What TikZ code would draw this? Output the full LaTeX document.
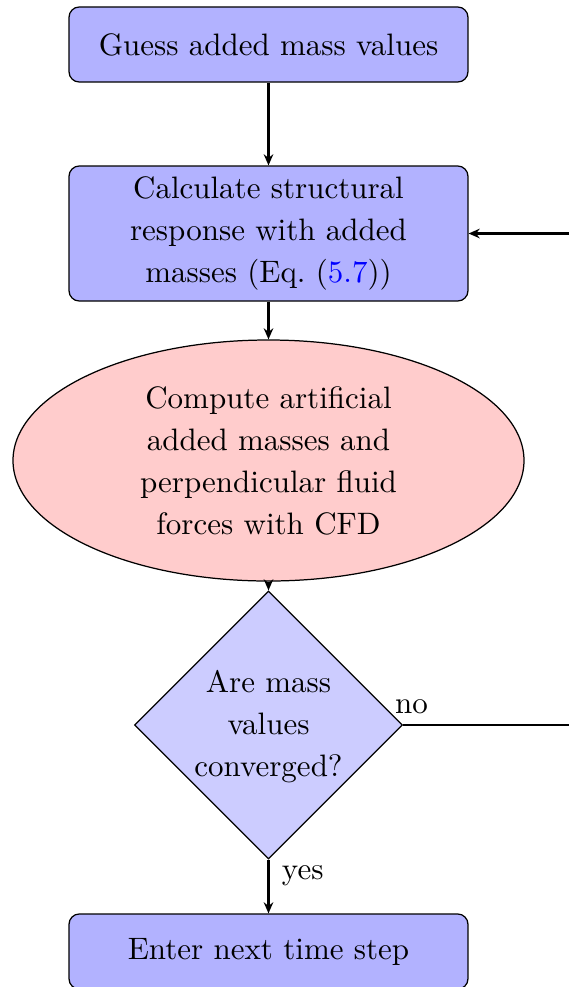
\documentclass[tikz,border=0pt]{standalone}
\usepackage{fontspec}
\usetikzlibrary{shapes.geometric,arrows.meta}
\definecolor{linkblue}{rgb}{0,0,1}
\begin{document}
\begin{tikzpicture}[x=0.3226pt,y=-0.3226pt,
  txt/.style={font=\fontsize{10pt}{13.55pt}\selectfont,align=center},
  block/.style={txt,draw,rectangle,fill=blue!30,rounded corners=3.3pt,minimum width=128.7pt,inner sep=0pt},
  cloudy/.style={txt,draw,ellipse,fill=red!20,minimum width=164.85pt,minimum height=77.75pt,inner sep=0pt},
  decide/.style={draw,diamond,fill=blue!20,minimum width=86.46pt,minimum height=86.46pt,inner sep=0pt},
  conn/.style={draw,line width=0.7pt,-{Stealth[length=3.6pt,width=3.1pt,inset=1.2pt]}},
  lbl/.style={font=\fontsize{10pt}{12pt}\selectfont,inner sep=0pt}]
\useasboundingbox (0,0) rectangle (569,987);
\node[block,minimum height=24.2pt] (guess) at (268.5,44.5) {Guess added mass values};
\node[block,minimum height=43.55pt] (calc) at (268.5,233.5) {Calculate structural\\response with added\\masses (Eq.~({\color{linkblue}5.7}))};
\node[cloudy] (cfd) at (268.5,460.5) {Compute artificial\\added masses and\\perpendicular fluid\\forces with CFD};
\node[decide] (dec) at (268.5,725) {};
\node[txt] (dectext) at (268.5,727) {Are mass\\values\\converged?};
\node[block,minimum height=24.2pt] (next) at (268.5,951.5) {Enter next time step};
\coordinate (rc) at (620,725);
\path[conn] (guess) -- (calc);
\path[conn] (calc) -- (cfd);
\path[conn] (cfd) -- (dec);
\path[conn] (dec) -- node[lbl,right,pos=0.3,xshift=4pt] {yes} (next);
\path[conn] (dec.east) -- node[lbl,pos=0,anchor=south west,xshift=-2.9pt,yshift=3.2pt] {no} (rc) |- (calc.east);
\end{tikzpicture}
\end{document}
